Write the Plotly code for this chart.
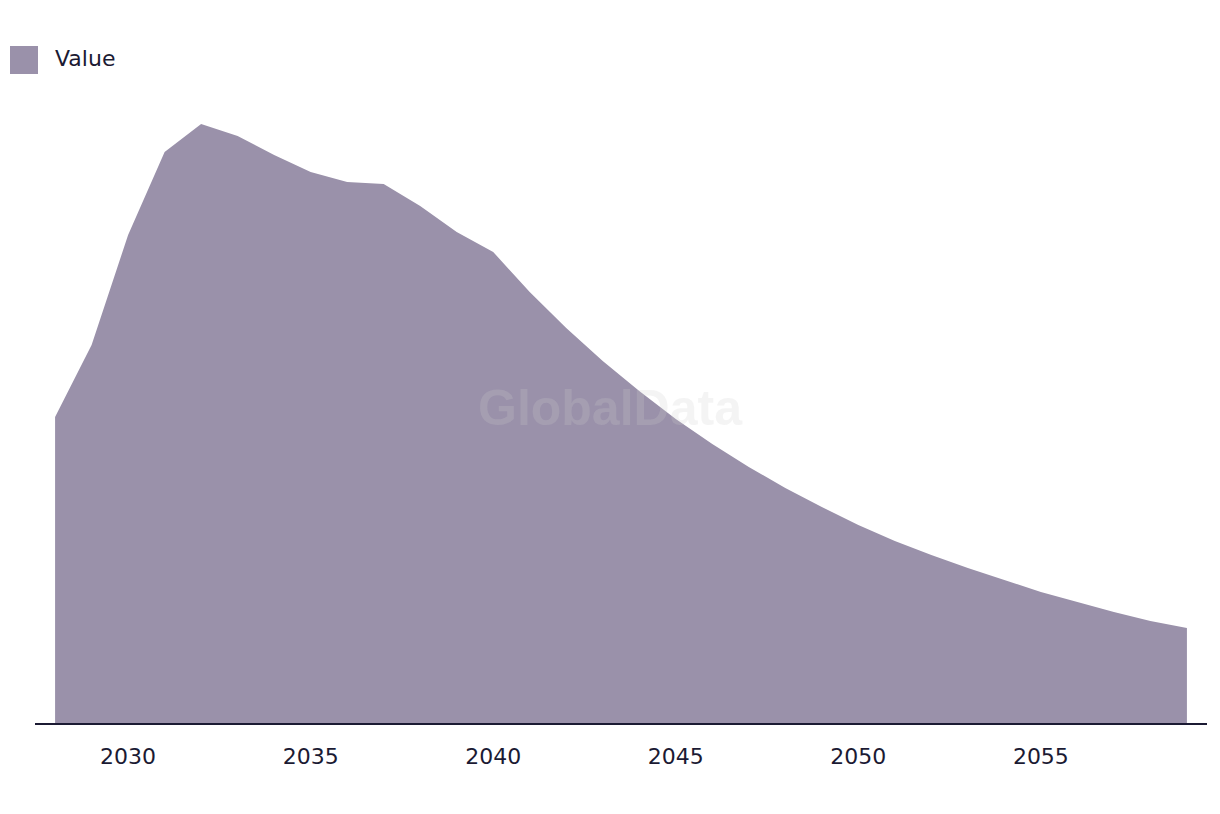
import plotly.graph_objects as go

years = list(range(2028, 2060))
values = [306, 378, 488, 571, 599, 587, 568, 551, 541, 539,
          517, 491, 471, 431, 395, 362, 332, 304, 279, 256,
          235, 216, 198, 182, 168, 155, 143, 131, 121, 111,
          102, 95]
tick_vals = [2030, 2035, 2040, 2045, 2050, 2055]
series_name = "Value"

fill_color = "#9A91AA"
text_color = "#1B1A33"
font_family = "'DejaVu Sans', sans-serif"

# the page body adds an 8px offset; margins compensate
PW, PH = 1172, 623

fig = go.Figure()
fig.add_trace(go.Scatter(
    x=years, y=values, mode="lines", fill="tozeroy",
    fillcolor=fill_color, line=dict(width=0, color=fill_color),
    name=series_name, showlegend=False, hoverinfo="x+y"))

# legend (drawn manually to match swatch size)
fig.add_shape(type="rect", xref="paper", yref="paper",
              x0=-25/PW, x1=3/PW, y0=1 + 26/PH, y1=1 + 54/PH,
              fillcolor=fill_color, line=dict(width=0))
fig.add_annotation(xref="paper", yref="paper", x=18/PW, y=1 + 42/PH,
                   text=series_name, showarrow=False, xanchor="left", yanchor="middle",
                   font=dict(size=22, color=text_color, family=font_family))

# watermark
fig.add_annotation(xref="paper", yref="paper", x=(610 - 35) / PW, y=(723 - 408) / PH,
                   text="<b>GlobalData</b>", showarrow=False,
                   xanchor="center", yanchor="middle",
                   font=dict(size=50, color="rgba(207,207,207,0.22)",
                             family="'Liberation Sans', Arial, sans-serif"))

fig.update_layout(
    width=1220, height=814,
    margin=dict(l=27, r=21, t=92, b=99),
    paper_bgcolor="white", plot_bgcolor="white",
    font=dict(family=font_family, color=text_color, size=22),
    showlegend=False,
)
fig.update_xaxes(range=[2027.45, 2059.55], tickvals=tick_vals,
                 showgrid=False, zeroline=False, showline=True,
                 linecolor=text_color, linewidth=2,
                 ticks="outside", ticklen=13, tickcolor="rgba(0,0,0,0)",
                 tickfont=dict(size=22, color=text_color, family=font_family))
fig.update_yaxes(range=[0, PH], showgrid=False, zeroline=False,
                 showline=False, showticklabels=False)

fig.write_html("out.html")
